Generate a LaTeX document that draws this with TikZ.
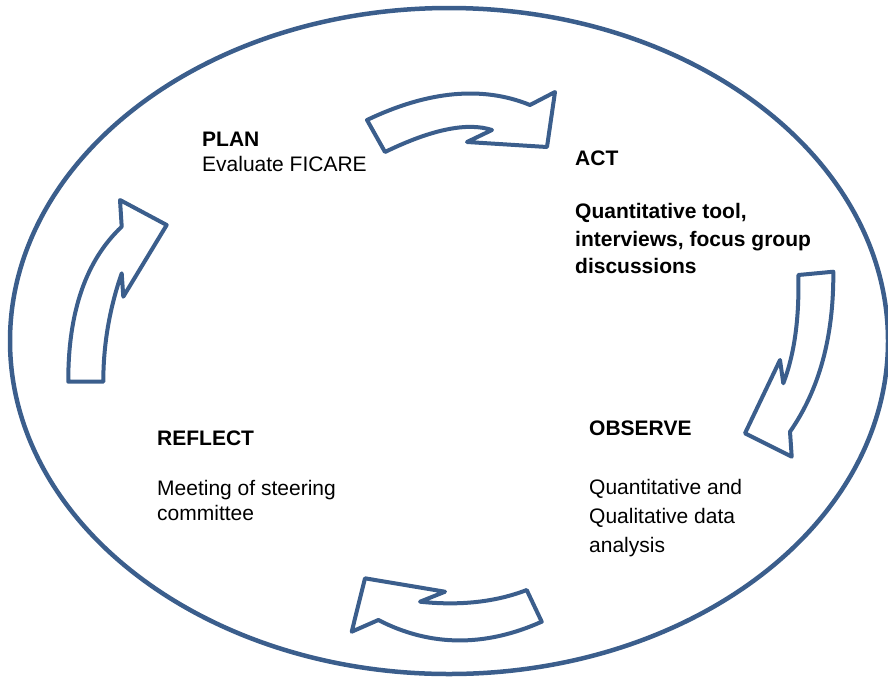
\documentclass[tikz,border=0pt]{standalone}
\usepackage{fontspec}
\setmainfont{Liberation Sans}
\definecolor{cyc}{HTML}{3B5E8C}
\tikzset{
  ring/.style={draw=cyc, line width=4.5pt},
  cycarrow/.style={draw=cyc, fill=white, line width=4pt, line join=round},
  lbl/.style={anchor=base west, inner sep=0pt, font=\fontsize{21}{25}\selectfont},
  hd/.style={anchor=base west, inner sep=0pt, font=\fontsize{21}{25}\selectfont\bfseries}
}
\begin{document}
\begin{tikzpicture}[x=1pt, y=-1pt]
\useasboundingbox (0,0) rectangle (888,681);
% outer ellipse
\draw[ring] (449,341) ellipse [x radius=439, y radius=333];
% top arrow (PLAN -> ACT)
\draw[cycarrow] (367,120) -- (385,152)
  .. controls (431.7,129.3) and (467.3,122) .. (492,130)
  -- (467,142) -- (547,147) -- (555,92) -- (530,105)
  .. controls (482.7,85.7) and (428.3,90.7) .. (367,120) -- cycle;
% right arrow (ACT -> OBSERVE)
\draw[cycarrow] (798.3,275) -- (833.3,271.7)
  .. controls (833.8,336.6) and (819.3,389.6) .. (790,431.7)
  -- (791.7,456.7) -- (745,433.3) -- (780,360) -- (783.3,383.3)
  .. controls (794.4,354.4) and (799.4,318.3) .. (798.3,275) -- cycle;
% bottom arrow (OBSERVE -> REFLECT)
\draw[cycarrow] (365,578.3) -- (445,591.7) -- (420,601.7)
  .. controls (460,605.9) and (495.6,602) .. (526.7,590)
  -- (541.7,621.7)
  .. controls (484.6,647.2) and (430.1,646.7) .. (378.3,620)
  -- (351.7,631.7) -- cycle;
% left arrow (REFLECT -> PLAN)
\draw[cycarrow] (68.3,381.7) -- (103.3,381.7)
  .. controls (103.3,345.3) and (109.3,309) .. (121.7,273.3)
  -- (123.3,296.7) -- (166.7,225) -- (120,200) -- (121.7,226.7)
  .. controls (86,260.3) and (68,312) .. (68.3,381.7) -- cycle;
% texts
\node[hd]  (plan)  at (202,146) {PLAN};
\node[lbl] (plan1) at (202,171) {Evaluate FICARE};
\node[hd]  (act)   at (575,165) {ACT};
\node[hd]  (act1)  at (575,218) {Quantitative tool,};
\node[hd]  (act2)  at (575,246) {interviews, focus group};
\node[hd]  (act3)  at (575,273) {discussions};
\node[hd]  (obs)   at (589,435) {OBSERVE};
\node[lbl] (obs1)  at (589,494) {Quantitative and};
\node[lbl] (obs2)  at (589,523) {Qualitative data};
\node[lbl] (obs3)  at (589,552) {analysis};
\node[hd]  (ref)   at (157,445) {REFLECT};
\node[lbl] (ref1)  at (157,495) {Meeting of steering};
\node[lbl] (ref2)  at (157,520) {committee};
\end{tikzpicture}
\end{document}
